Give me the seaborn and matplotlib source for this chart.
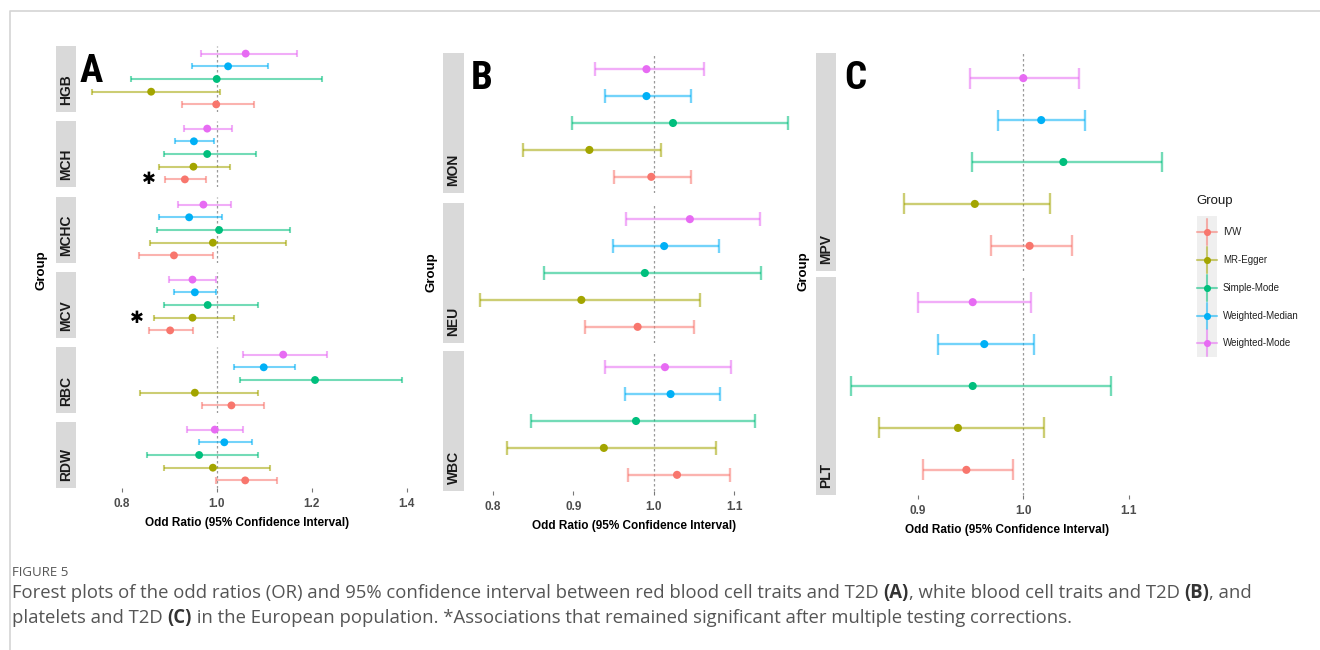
import matplotlib
matplotlib.use("Agg")
import matplotlib.pyplot as plt
import seaborn as sns
import pandas as pd
from matplotlib import font_manager as fm
from matplotlib.patches import Rectangle

sns.set_theme(style="white")
AVAIL = {f.name for f in fm.fontManager.ttflist}
def pick(cands):
    for c in cands:
        if c in AVAIL:
            return c
    return "DejaVu Sans"
SANS = pick(["Liberation Sans", "Arial", "DejaVu Sans"])
NARROW = pick(["Liberation Sans Narrow", "DejaVu Sans Condensed", "Roboto Condensed", "Liberation Sans"])
CAPF = pick(["Open Sans", "Noto Sans", "Liberation Sans"])
plt.rcParams["font.family"] = [SANS, "DejaVu Sans"]

# ---------------- data ----------------
METHODS = ["IVW", "MR-Egger", "Simple-Mode", "Weighted-Median", "Weighted-Mode"]
COLORS = ["#F8766D", "#A3A500", "#00BF7D", "#00B0F6", "#E76BF3"]

# values follow METHODS order
HGB_OR = [0.999, 0.862, 1.000, 1.024, 1.061]
HGB_LO = [0.926, 0.737, 0.820, 0.949, 0.966]
HGB_HI = [1.079, 1.007, 1.221, 1.107, 1.170]
MCH_OR = [0.933, 0.951, 0.980, 0.952, 0.980]
MCH_LO = [0.892, 0.879, 0.888, 0.913, 0.932]
MCH_HI = [0.978, 1.029, 1.083, 0.995, 1.032]
MCHC_OR = [0.910, 0.992, 1.005, 0.942, 0.972]
MCHC_LO = [0.836, 0.859, 0.875, 0.878, 0.918]
MCHC_HI = [0.992, 1.145, 1.154, 1.012, 1.031]
MCV_OR = [0.902, 0.949, 0.981, 0.954, 0.949]
MCV_LO = [0.857, 0.868, 0.888, 0.910, 0.900]
MCV_HI = [0.950, 1.036, 1.086, 0.999, 0.998]
RBC_OR = [1.031, 0.954, 1.207, 1.099, 1.140]
RBC_LO = [0.969, 0.839, 1.050, 1.036, 1.056]
RBC_HI = [1.100, 1.086, 1.391, 1.165, 1.232]
RDW_OR = [1.060, 0.992, 0.963, 1.016, 0.996]
RDW_LO = [0.998, 0.888, 0.854, 0.962, 0.938]
RDW_HI = [1.128, 1.112, 1.087, 1.074, 1.055]

MON_OR = [0.997, 0.920, 1.024, 0.991, 0.991]
MON_LO = [0.951, 0.837, 0.899, 0.940, 0.927]
MON_HI = [1.046, 1.009, 1.167, 1.046, 1.062]
NEU_OR = [0.980, 0.910, 0.989, 1.013, 1.045]
NEU_LO = [0.915, 0.784, 0.864, 0.949, 0.965]
NEU_HI = [1.050, 1.057, 1.134, 1.081, 1.132]
WBC_OR = [1.029, 0.938, 0.978, 1.021, 1.014]
WBC_LO = [0.968, 0.817, 0.848, 0.964, 0.939]
WBC_HI = [1.095, 1.077, 1.126, 1.083, 1.096]

MPV_OR = [1.006, 0.954, 1.038, 1.017, 1.000]
MPV_LO = [0.969, 0.887, 0.951, 0.976, 0.949]
MPV_HI = [1.046, 1.025, 1.132, 1.059, 1.053]
PLT_OR = [0.946, 0.938, 0.952, 0.963, 0.952]
PLT_LO = [0.905, 0.863, 0.837, 0.919, 0.900]
PLT_HI = [0.990, 1.020, 1.083, 1.010, 1.007]

A_TRAITS = ["HGB", "MCH", "MCHC", "MCV", "RBC", "RDW"]
B_TRAITS = ["MON", "NEU", "WBC"]
C_TRAITS = ["MPV", "PLT"]
A_TICKS = [0.8, 1.0, 1.2, 1.4]
B_TICKS = [0.8, 0.9, 1.0, 1.1]
C_TICKS = [0.9, 1.0, 1.1]
SIGNIF = [("MCH", "IVW"), ("MCV", "MR-Egger")]

TRAIT_DATA = {
    "HGB": (HGB_OR, HGB_LO, HGB_HI), "MCH": (MCH_OR, MCH_LO, MCH_HI),
    "MCHC": (MCHC_OR, MCHC_LO, MCHC_HI), "MCV": (MCV_OR, MCV_LO, MCV_HI),
    "RBC": (RBC_OR, RBC_LO, RBC_HI), "RDW": (RDW_OR, RDW_LO, RDW_HI),
    "MON": (MON_OR, MON_LO, MON_HI), "NEU": (NEU_OR, NEU_LO, NEU_HI),
    "WBC": (WBC_OR, WBC_LO, WBC_HI), "MPV": (MPV_OR, MPV_LO, MPV_HI),
    "PLT": (PLT_OR, PLT_LO, PLT_HI),
}
rows = []
for tr, (o, l, h) in TRAIT_DATA.items():
    for i, m in enumerate(METHODS):
        rows.append(dict(Trait=tr, Method=m, pos=i, OR=o[i], lo=l[i], hi=h[i]))
df = pd.DataFrame(rows)
PAL = dict(zip(METHODS, COLORS))

# ---------------- layout (pixels) ----------------
W, H = 1320, 650
fig = plt.figure(figsize=(W / 100, H / 100), dpi=100)
fig.patch.set_facecolor("white")

def rect(x0, y0, x1, y1):
    return [x0 / W, 1 - y1 / H, (x1 - x0) / W, (y1 - y0) / H]

ov = fig.add_axes([0, 0, 1, 1], zorder=-5)
ov.set_xlim(0, W)
ov.set_ylim(H, 0)
ov.axis("off")

# page border
ov.plot([10, 10, W], [H, 11, 11], color="#D4D4D4", lw=1.2, solid_capstyle="butt")

PANELS = [
    dict(traits=A_TRAITS, ticks=A_TICKS, one=216.7, ppu=475.0, left=76, right=418,
         tops=[46, 121, 197, 272, 347, 422], h=66, strip=(56, 76), letter="A",
         lpos=(91, 71), gpos=(42, 270), xl_y=523, s=32, lw=1.5),
    dict(traits=B_TRAITS, ticks=B_TICKS, one=653.7, ppu=804.0, left=465, right=803,
         tops=[53, 203, 351], h=140, strip=(443, 464), letter="B",
         lpos=(481.5, 78.5), gpos=(432, 272), xl_y=526, s=34, lw=1.7),
    dict(traits=C_TRAITS, ticks=C_TICKS, one=1023.3, ppu=1054.0, left=836, right=1178,
         tops=[53, 277], h=218, strip=(816, 836), letter="C",
         lpos=(855, 78.5), gpos=(803, 271), xl_y=530, s=34, lw=1.7),
]

for P in PANELS:
    xlim = (1 + (P["left"] - P["one"]) / P["ppu"], 1 + (P["right"] - P["one"]) / P["ppu"])
    n = len(P["traits"])
    for k, (tr, top) in enumerate(zip(P["traits"], P["tops"])):
        bot = top + P["h"]
        ax = fig.add_axes(rect(P["left"], top, P["right"], bot))
        ax.patch.set_alpha(0)
        d = df[df["Trait"] == tr]
        cols = [PAL[m] for m in d["Method"]]
        ax.axvline(1.0, color="#9A9A9A", lw=0.9, ls=(0, (2, 2)), zorder=0)
        ax.hlines(d["pos"], d["lo"], d["hi"], colors=cols, alpha=0.55, lw=P["lw"], zorder=1)
        ax.vlines(d["lo"], d["pos"] - 0.25, d["pos"] + 0.25, colors=cols, alpha=0.55, lw=P["lw"], zorder=1)
        ax.vlines(d["hi"], d["pos"] - 0.25, d["pos"] + 0.25, colors=cols, alpha=0.55, lw=P["lw"], zorder=1)
        sns.scatterplot(data=d, x="OR", y="pos", hue="Method", hue_order=METHODS,
                        palette=PAL, s=P["s"], linewidth=0, legend=False, ax=ax, zorder=3)
        ax.set_xlim(*xlim)
        ax.set_ylim(-0.6, 4.6)
        ax.set_xlabel("")
        ax.set_ylabel("")
        for sp in ax.spines.values():
            sp.set_visible(False)
        ax.set_yticks([])
        ax.set_xticks(P["ticks"])
        if k == n - 1:
            ax.set_xticklabels([f"{t:.1f}" for t in P["ticks"]])
            ax.tick_params(axis="x", bottom=True, length=3, width=0.8, color="#777777",
                           pad=4, labelsize=8.5, labelcolor="#4D4D4D")
            for lab in ax.get_xticklabels():
                lab.set_fontweight("bold")
        else:
            ax.tick_params(axis="x", bottom=False, labelbottom=False)
        # significance marks
        for (st, sm) in SIGNIF:
            if st == tr:
                r = d[d["Method"] == sm].iloc[0]
                ax.annotate("✱", xy=(r["lo"], r["pos"]), xytext=(-12, 0),
                            textcoords="offset points", ha="center", va="center",
                            fontsize=12, fontweight="bold", color="black",
                            family=["DejaVu Sans"], annotation_clip=False)
        # strip
        sx0, sx1 = P["strip"]
        ov.add_patch(Rectangle((sx0, top), sx1 - sx0, P["h"], facecolor="#D9D9D9",
                               edgecolor="none"))
        ov.text((sx0 + sx1) / 2, bot - 7, tr, rotation=90, ha="center", va="bottom",
                fontsize=10, fontweight="bold", color="#1A1A1A")
    cx = (P["left"] + P["right"]) / 2
    ov.text(cx, P["xl_y"], "Odd Ratio (95% Confidence Interval)", ha="center", va="center",
            fontsize=8.5, fontweight="bold", color="black")
    ov.text(P["gpos"][0], P["gpos"][1], "Group", rotation=90, ha="center", va="center",
            fontsize=9.5, fontweight="bold", color="black")
    ov.text(P["lpos"][0], P["lpos"][1], P["letter"], ha="center", va="center",
            fontsize=28, fontweight="bold", color="black", family=[NARROW, SANS],
            fontstretch="condensed")

# ---------------- legend ----------------
ov.text(1196, 201, "Group", ha="left", va="center", fontsize=9.5, color="#1A1A1A")
LEG_Y = [231.7, 260.0, 288.3, 316.0, 343.3]
ov.add_patch(Rectangle((1197, 216), 20, 141, facecolor="#EFEFEF", edgecolor="none"))
for m, c, yy in zip(METHODS, COLORS, LEG_Y):
    ov.plot([1197, 1217], [yy, yy], color=c, alpha=0.55, lw=1.5)
    ov.plot([1207, 1207], [yy - 13, yy + 13], color=c, alpha=0.55, lw=1.5)
    ov.scatter([1207], [yy], s=26, color=c, linewidths=0, zorder=3)
    ov.text(1223, yy, m, ha="left", va="center", fontsize=7, color="#222222")

# ---------------- caption ----------------
ov.text(12, 573, "FIGURE 5", ha="left", va="center", fontsize=9.5, color="#555555", family=[CAPF])
LINE1 = [("Forest plots of the odd ratios (OR) and 95% confidence interval between red blood cell traits and T2D ", "normal"),
         ("(A)", "bold"), (", white blood cell traits and T2D ", "normal"), ("(B)", "bold"), (", and", "normal")]
LINE2 = [("platelets and T2D ", "normal"), ("(C)", "bold"),
         (" in the European population. *Associations that remained significant after multiple testing corrections.", "normal")]

renderer = fig.canvas.get_renderer()

def rich(x, y, pieces, size, draw=True):
    arts = []
    for txt, wt in pieces:
        t = ov.text(x, y, txt, ha="left", va="center", fontsize=size, fontweight=wt,
                    color="#333333" if wt == "bold" else "#555555", family=[CAPF])
        bb = t.get_window_extent(renderer)
        x = bb.x1
        arts.append(t)
    if not draw:
        for a in arts:
            a.remove()
    return x

end = rich(12, 593, LINE1, 11, draw=False)
size = 11 * (1258 - 12) / (end - 12)
rich(12, 593, LINE1, size)
rich(12, 618, LINE2, size)

fig.savefig("out.png", dpi=100, facecolor="white")
